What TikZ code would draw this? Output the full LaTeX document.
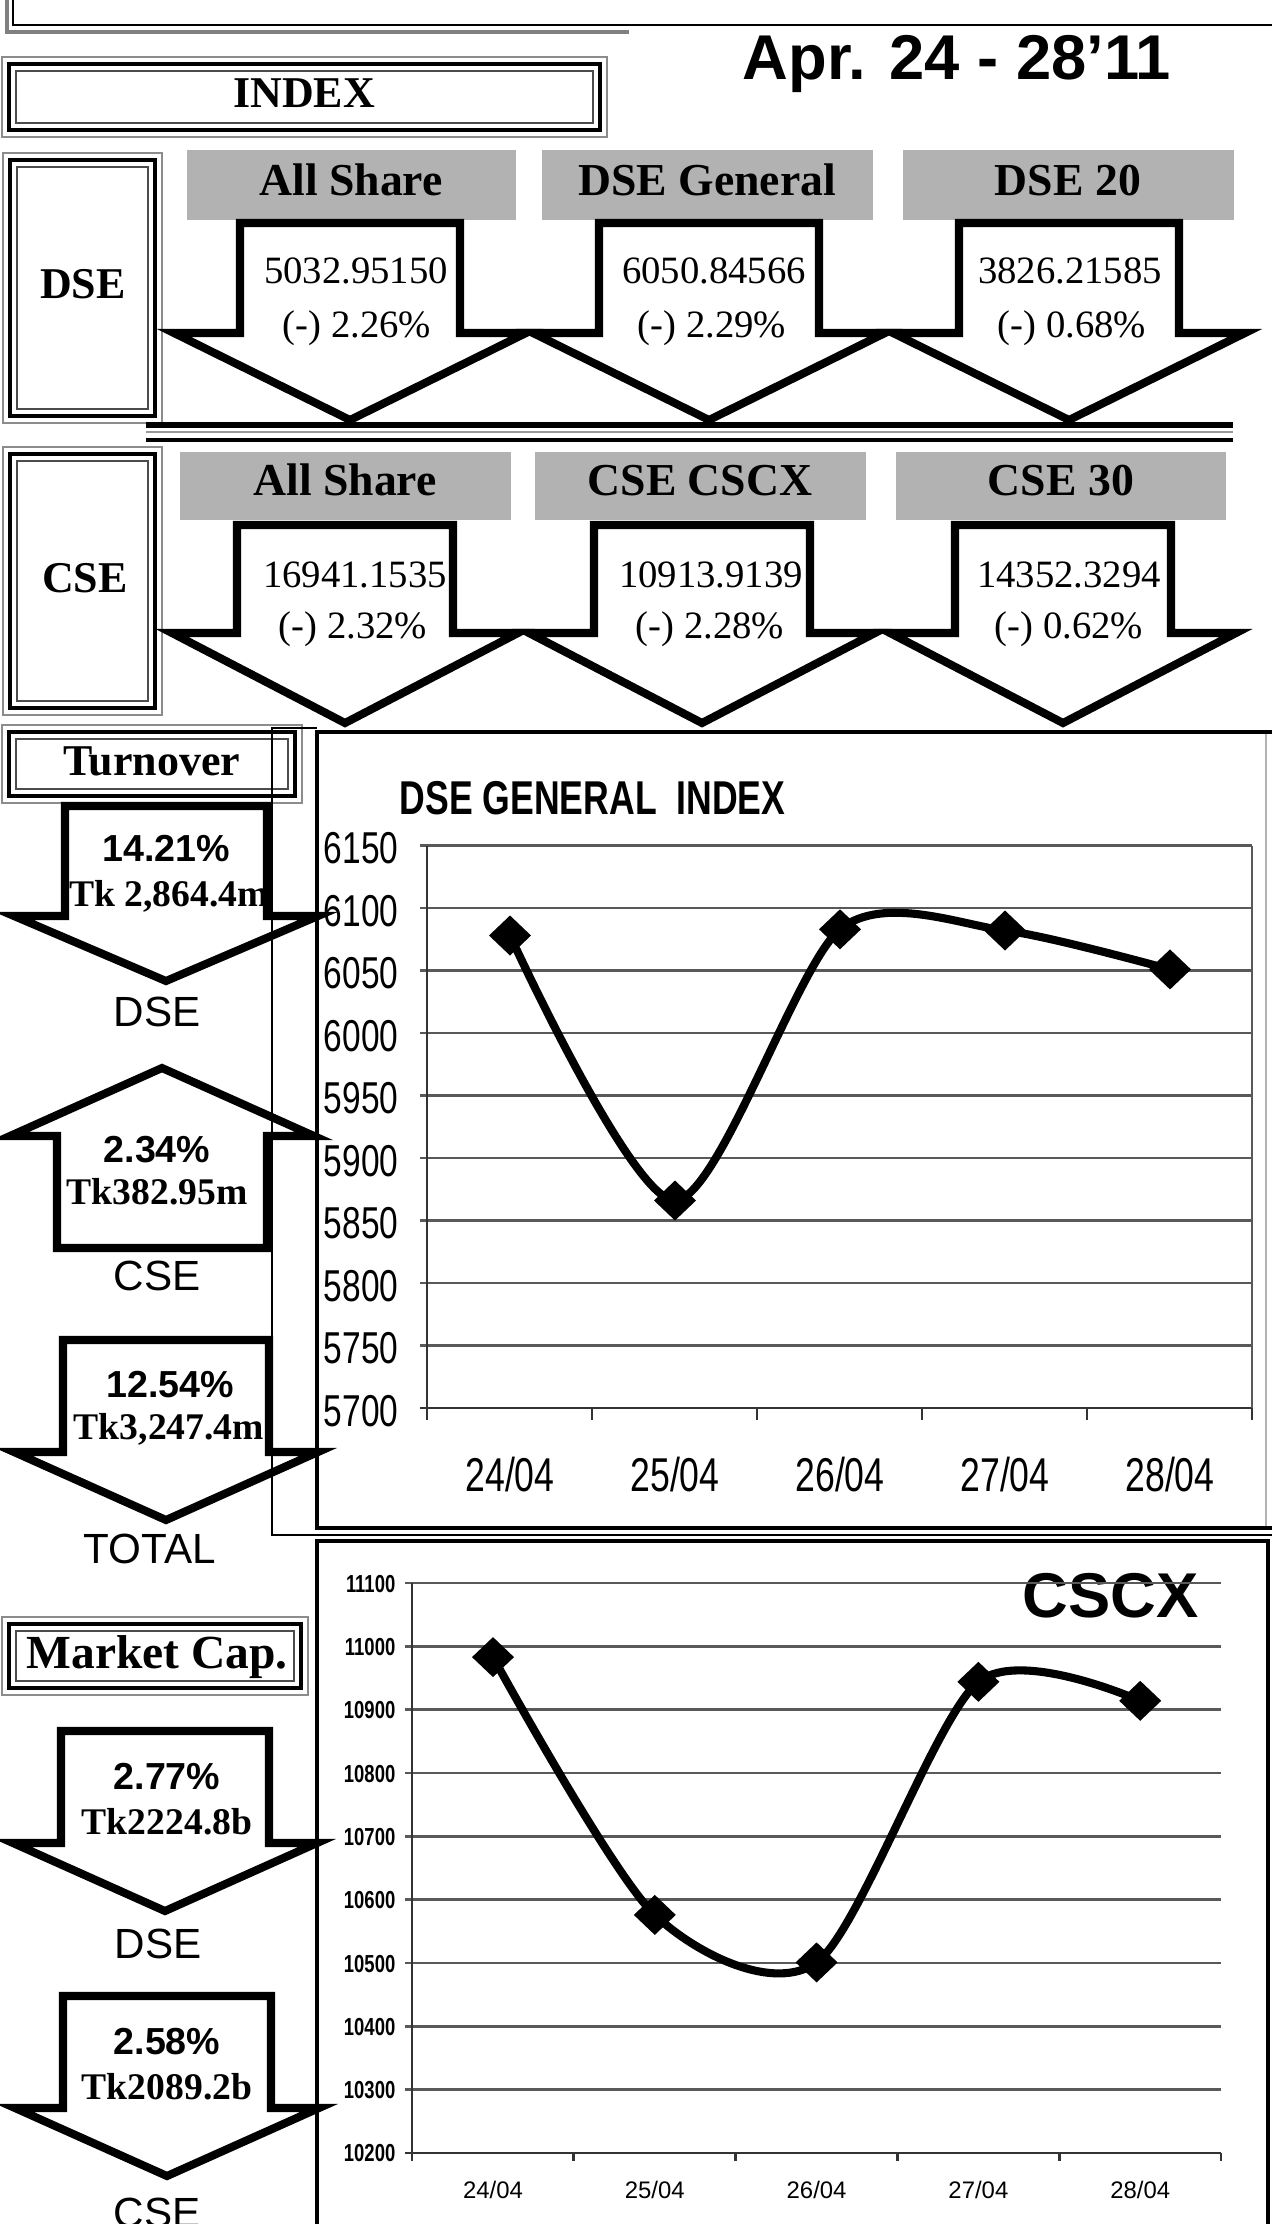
\documentclass[tikz,border=0pt]{standalone}
\usepackage{fontspec}
\setmainfont{Liberation Serif}
\setsansfont{Liberation Sans}
\newfontfamily\narrowsf[FakeStretch=0.75]{Liberation Sans}
\usetikzlibrary{arrows}

\tikzset{
  txt/.style={inner sep=0pt, anchor=base},
  boldlbl/.style={txt, font=\bfseries\fontsize{12.5}{14}\selectfont},
  hdrtxt/.style={txt, font=\bfseries\fontsize{13}{15}\selectfont},
  idxval/.style={txt, font=\fontsize{11}{13}\selectfont},
  pcttxt/.style={txt, font=\sffamily\bfseries\fontsize{10.7}{12}\selectfont},
  tktxt/.style={txt, font=\bfseries\fontsize{10.7}{13}\selectfont},
  exchtxt/.style={txt, font=\sffamily\fontsize{12}{14}\selectfont},
  datetxt/.style={txt, font=\sffamily\bfseries\fontsize{18}{20}\selectfont},
  hdrfill/.style={fill=black!30},
  blockline/.style={draw=black, fill=white, line width=2.3pt, line join=miter},
  gridline/.style={black!65, line width=0.7pt},
  curveline/.style={line width=2.3pt, line join=round, line cap=round},
  ylabA/.style={inner sep=0pt, anchor=base east, font=\narrowsf\fontsize{12.7}{14}\selectfont},
  xlabA/.style={txt, font=\narrowsf\fontsize{13.5}{15}\selectfont},
  ylabB/.style={inner sep=0pt, anchor=base east, font=\narrowsf\bfseries\fontsize{7}{8}\selectfont},
  xlabB/.style={txt, font=\sffamily\fontsize{6.8}{8}\selectfont},
}

% framed label box: outer grey, thick black, thin inner
\newcommand{\dblbox}[4]{%
  \draw[black!45, line width=0.5pt] (#1,#2) rectangle (#3,#4);
  \draw[line width=1.4pt] (#1+7,#2+7) rectangle (#3-7,#4-7);
  \draw[black!70, line width=0.5pt] (#1+14,#2+14) rectangle (#3-14,#4-14);
}
% block arrow: centre x, shaft half width, head half width, base y, head y, tip y
\newcommand{\blockarrow}[6]{%
  \draw[blockline] (#1-#2,#4) -- (#1+#2,#4) -- (#1+#2,#5) -- (#1+#3,#5)
    -- (#1,#6) -- (#1-#3,#5) -- (#1-#2,#5) -- cycle;
}
% diamond marker
\newcommand{\mrk}[1]{\fill (#1) +(-21,0) -- +(0,-20) -- +(21,0) -- +(0,20) -- cycle;}

\begin{document}
\begin{tikzpicture}[x=0.01cm, y=-0.01cm]
    % Page
    \fill[white] (0,0) rectangle (1272,2224);
    \useasboundingbox (0,0) rectangle (1272,2224);
    % Top frame
    \draw[line width=0.6pt] (13,0) -- (13,25) -- (1272,25);
    \draw[black!50, line width=1pt] (7,0) -- (7,32) -- (629,32);
    \node[datetxt] (date) at (957,80) {Apr. 24 - 28’11};
    % INDEX
    \dblbox{2}{57}{607}{137}
    \node[boldlbl] (index) at (304,107) {INDEX};

    % DSE row
    \dblbox{3}{153}{162}{423}
    \node[boldlbl] (dse) at (83,298) {DSE};
    \fill[hdrfill] (187,150) rectangle (516,220);
    \fill[hdrfill] (542,150) rectangle (873,220);
    \fill[hdrfill] (903,150) rectangle (1234,220);
    \node[hdrtxt] (dseall) at (351,195) {All Share};
    \node[hdrtxt] (dsegen) at (707,195) {DSE General};
    \node[hdrtxt] (dse20) at (1068,195) {DSE 20};
    \blockarrow{350}{110}{176}{223}{333}{420}
    \blockarrow{709}{110}{176}{223}{333}{420}
    \blockarrow{1069}{110}{176}{223}{333}{420}
    \node[idxval] (dseallv) at (356,283) {5032.95150};
    \node[idxval] (dseallp) at (357,337) {(-) 2.26\%};
    \node[idxval] (dsegenv) at (714,283) {6050.84566};
    \node[idxval] (dsegenp) at (712,337) {(-) 2.29\%};
    \node[idxval] (dse20v) at (1070,283) {3826.21585};
    \node[idxval] (dse20p) at (1072,337) {(-) 0.68\%};
    % Separator
    \draw[line width=1.6pt] (146,425) -- (1233,425);
    \draw[black!40, line width=0.6pt] (146,432) -- (1233,432);
    \draw[line width=1.3pt] (146,440) -- (1233,440);

    % CSE row
    \dblbox{3}{447}{162}{715}
    \node[boldlbl] (cse) at (85,592) {CSE};
    \fill[hdrfill] (180,452) rectangle (511,520);
    \fill[hdrfill] (535,452) rectangle (866,520);
    \fill[hdrfill] (896,452) rectangle (1226,520);
    \node[hdrtxt] (cseall) at (345,495) {All Share};
    \node[hdrtxt] (csecscx) at (700,495) {CSE CSCX};
    \node[hdrtxt] (cse30) at (1061,495) {CSE 30};
    \blockarrow{345}{108}{173}{525}{633}{723}
    \blockarrow{702}{108}{173}{525}{633}{723}
    \blockarrow{1063}{108}{173}{525}{633}{723}
    \node[idxval] (cseallv) at (355,587) {16941.1535};
    \node[idxval] (cseallp) at (353,638) {(-) 2.32\%};
    \node[idxval] (csecscxv) at (711,587) {10913.9139};
    \node[idxval] (csecscxp) at (710,638) {(-) 2.28\%};
    \node[idxval] (cse30v) at (1069,587) {14352.3294};
    \node[idxval] (cse30p) at (1069,638) {(-) 0.62\%};

    % Turnover
    \dblbox{2}{725}{302}{803}
    \node[boldlbl] (turnover) at (152,775) {Turnover};
    \blockarrow{166}{101}{152}{806}{916}{981}
    \node[pcttxt] (tdsep) at (166,861) {14.21\%};
    \node[tktxt] (tdsev) at (169,906) {Tk 2,864.4m};
    \node[exchtxt] (tdse) at (157,1026) {DSE};
    \blockarrow{162}{105}{152}{1248}{1136}{1068}
    \node[pcttxt] (tcsep) at (157,1162) {2.34\%};
    \node[tktxt] (tcsev) at (157,1204) {Tk382.95m};
    \node[exchtxt] (tcse) at (157,1290) {CSE};
    \blockarrow{166}{103}{152}{1340}{1452}{1520}
    \node[pcttxt] (ttotp) at (170,1397) {12.54\%};
    \node[tktxt] (ttotv) at (169,1439) {Tk3,247.4m};
    \node[exchtxt] (ttot) at (150,1563) {TOTAL};

    % Market Cap.
    \dblbox{2}{1617}{308}{1695}
    \node[boldlbl, font=\bfseries\fontsize{13.5}{15}\selectfont] (mcap) at (157,1668) {Market Cap.};
    \blockarrow{165}{104}{152}{1731}{1843}{1911}
    \node[pcttxt] (mdsep) at (167,1789) {2.77\%};
    \node[tktxt] (mdsev) at (167,1834) {Tk2224.8b};
    \node[exchtxt] (mdse) at (158,1958) {DSE};
    \blockarrow{167}{104}{152}{1996}{2108}{2176}
    \node[pcttxt] (mcsep) at (167,2054) {2.58\%};
    \node[tktxt] (mcsev) at (167,2099) {Tk2089.2b};
    \node[exchtxt] (mcse) at (157,2227) {CSE};

    % Chart frames
    \draw[line width=0.6pt] (317,728) -- (272,728) -- (272,1535) -- (1272,1535);
    \draw[black!30, line width=0.6pt] (1266,732) -- (1266,1528);
    \draw[line width=1.4pt] (1272,732) -- (317,732) -- (317,1528) -- (1272,1528);
    \draw[line width=1.4pt] (317,2240) -- (317,1541) -- (1268,1541) -- (1268,2240);

    % DSE general index chart
    \node[txt, anchor=base west, font=\narrowsf\bfseries\fontsize{13.5}{15}\selectfont] (titleA) at (399,814) {DSE GENERAL\ \ INDEX};
    \foreach \v [count=\k from 0] in {6150,6100,...,5700} {
      \draw[gridline] (420,845.5+\k*62.5) -- (1252,845.5+\k*62.5);
      \node[ylabA] (ya\k) at (399,845.5+\k*62.5+18) {\v};
    }
    \draw[black!80, line width=0.8pt] (427,845.5) -- (427,1420);
    \draw[black!80, line width=0.8pt] (420,1408) -- (1252,1408);
    \draw[gridline] (1252,845.5) -- (1252,1408);
    \foreach \i in {0,...,5}
      \draw[black!80, line width=0.8pt] (427+\i*165,1408) -- (427+\i*165,1420);
    \foreach \dd [count=\i from 0] in {24,25,26,27,28}
      \node[xlabA] (xa\i) at (510+\i*165,1491) {\dd/04};
    \coordinate (a1) at (510,935.5);
    \coordinate (a2) at (675,1200.5);
    \coordinate (a3) at (840,929.3);
    \coordinate (a4) at (1005,930.5);
    \coordinate (a5) at (1170,969.4);
    \draw[curveline] plot[smooth, tension=0.47] coordinates {(a1) (a2) (a3) (a4) (a5)};
    \foreach \i in {1,...,5} {\mrk{a\i}}

    % CSCX chart
    \node[txt, anchor=base east, font=\sffamily\bfseries\fontsize{18}{20}\selectfont] (titleB) at (1199,1617) {CSCX};
    \foreach \v [count=\k from 0] in {11100,11000,...,10200} {
      \draw[gridline] (405,1583+\k*63.33) -- (1221,1583+\k*63.33);
      \node[ylabB] (yb\k) at (396,1583+\k*63.33+9) {\v};
    }
    \draw[black!80, line width=0.8pt] (412,1583) -- (412,2161);
    \draw[black!80, line width=0.8pt] (405,2153) -- (1221,2153);
    \foreach \i in {0,...,5}
      \draw[black!80, line width=0.8pt] (412+\i*161.8,2153) -- (412+\i*161.8,2161);
    \foreach \dd [count=\i from 0] in {24,25,26,27,28}
      \node[xlabB] (xb\i) at (493+\i*161.8,2198) {\dd/04};
    \coordinate (b1) at (493,1657.1);
    \coordinate (b2) at (654.8,1914.9);
    \coordinate (b3) at (816.6,1962.4);
    \coordinate (b4) at (978.4,1681.8);
    \coordinate (b5) at (1140.2,1700.8);
    \draw[curveline] plot[smooth, tension=0.47] coordinates {(b1) (b2) (b3) (b4) (b5)};
    \foreach \i in {1,...,5} {\mrk{b\i}}
\end{tikzpicture}
\end{document}
